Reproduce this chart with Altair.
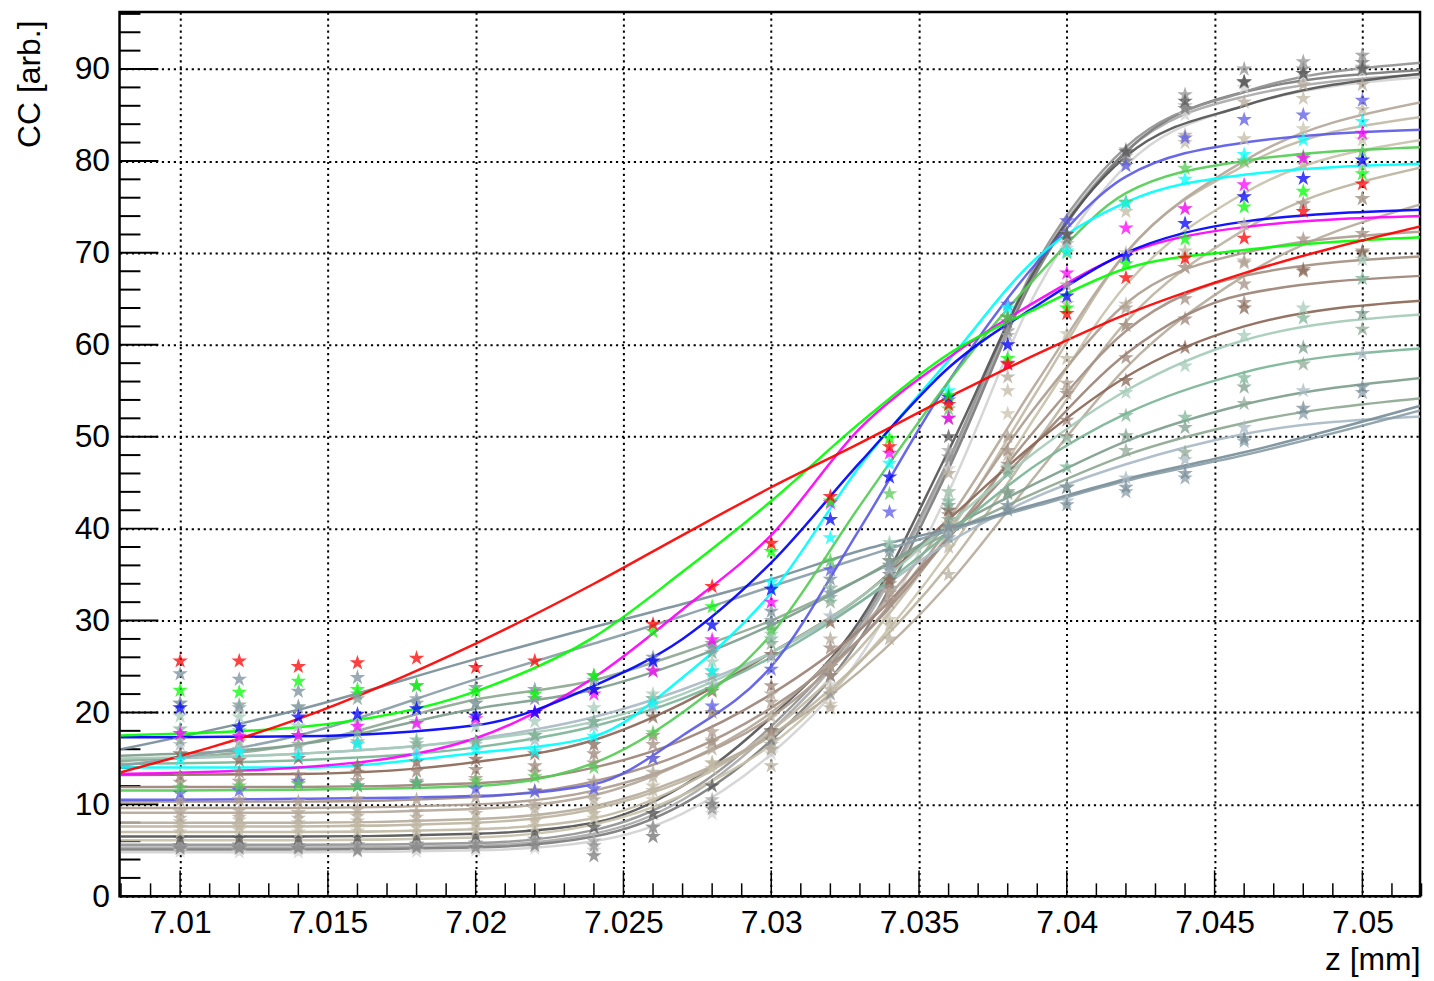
import altair as alt
import pandas as pd

# ---------------- data ----------------
PT_Z = [7.010, 7.012, 7.014, 7.016, 7.018, 7.020, 7.022, 7.024, 7.026, 7.028, 7.030,
        7.032, 7.034, 7.036, 7.038, 7.040, 7.042, 7.044, 7.046, 7.048, 7.050]
LINE_Z = [7.008, 7.014, 7.020, 7.024, 7.027, 7.030, 7.033, 7.036, 7.039, 7.042, 7.046, 7.052]

# greys (steepest)
g1_line = [5.6, 5.6, 5.8, 7.2, 11.0, 18.5, 29.5, 47.5, 69.0, 81.5, 87.5, 90.7]
g1_pts = [5.5, 5.5, 5.5, 5.6, 5.7, 5.8, 6.2, 5.5, 7.5, 9.5, 16.0, 22.0, 33.5, 47.8, 61.5, 72.1, 81.2, 87.2, 90.0, 90.8, 91.5]
g2_line = [6.5, 6.5, 6.8, 8.0, 12.0, 19.5, 30.0, 48.5, 68.5, 80.5, 86.0, 89.5]
g2_pts = [6.3, 6.3, 6.3, 6.4, 6.5, 6.6, 7.0, 7.5, 9.0, 12.0, 18.0, 25.0, 36.5, 50.0, 63.0, 72.0, 81.0, 86.5, 88.6, 89.5, 90.0]
g3_line = [5.1, 5.1, 5.3, 6.5, 10.0, 17.0, 28.0, 46.5, 68.0, 81.0, 87.5, 89.9]
g3_pts = [5.2, 5.2, 5.2, 5.0, 5.3, 5.3, 5.5, 4.4, 6.5, 10.0, 17.0, 24.0, 35.0, 52.0, 62.5, 71.5, 80.0, 85.7, 88.6, 90.0, 90.7]
g4_line = [4.8, 4.8, 5.0, 6.0, 9.0, 15.5, 26.0, 44.0, 66.0, 79.5, 86.0, 89.1]
g4_pts = [4.9, 4.8, 4.8, 4.9, 4.9, 5.0, 5.2, 5.0, 6.5, 9.0, 15.5, 23.0, 34.0, 46.5, 60.0, 70.5, 79.5, 85.0, 88.0, 89.0, 89.8]
g5_line = [5.3, 5.3, 5.5, 6.8, 10.5, 18.0, 29.0, 47.0, 68.5, 81.0, 87.0, 89.4]
g5_pts = [5.5, 5.6, 5.4, 5.5, 5.6, 5.7, 6.0, 6.0, 7.5, 10.5, 16.5, 24.0, 35.5, 48.5, 61.0, 71.0, 80.5, 86.0, 88.5, 89.5, 90.2]

# khaki / beige
k1_line = [8.0, 8.0, 8.4, 9.8, 12.8, 17.5, 24.5, 34.0, 46.0, 57.5, 67.5, 75.3]
k1_pts = [8.5, 8.6, 8.5, 8.7, 8.6, 9.0, 9.5, 10.5, 13.0, 16.0, 14.2, 20.5, 28.0, 35.0, 44.0, 55.0, 62.1, 68.4, 69.1, 75.4, 75.9]
k2_line = [7.6, 7.6, 8.0, 9.5, 12.5, 17.5, 25.5, 36.0, 49.5, 62.5, 72.5, 79.3]
k2_pts = [7.5, 7.6, 7.5, 7.6, 7.5, 7.8, 8.2, 9.0, 11.5, 14.5, 16.0, 22.5, 29.5, 38.0, 48.0, 58.5, 64.4, 70.2, 73.1, 79.6, 79.5]
k3_line = [6.1, 6.1, 6.4, 7.8, 11.0, 16.5, 25.5, 37.5, 52.5, 66.5, 76.5, 82.3]
k3_pts = [7.0, 7.2, 7.0, 7.1, 7.0, 7.2, 7.6, 8.5, 10.5, 13.9, 17.5, 20.9, 30.1, 40.5, 52.5, 61.2, 70.0, 74.8, 79.9, 83.5, 82.3]
k4_line = [7.0, 7.0, 7.3, 8.5, 12.0, 18.0, 27.0, 39.5, 55.0, 70.0, 79.5, 84.8]
k4_pts = [8.1, 8.3, 8.0, 8.2, 8.1, 8.2, 8.6, 9.5, 12.0, 14.5, 19.5, 25.0, 33.0, 44.0, 55.0, 64.5, 74.5, 82.0, 82.4, 86.8, 85.6]
k5_line = [9.1, 9.1, 9.5, 11.0, 14.5, 20.0, 29.0, 41.0, 56.0, 70.0, 80.0, 86.4]
k5_pts = [9.2, 9.3, 9.1, 9.4, 9.2, 9.5, 10.0, 11.0, 13.5, 17.0, 22.0, 28.0, 36.0, 46.0, 56.5, 66.5, 75.5, 82.8, 86.4, 88.3, 88.3]

# browns
b1_line = [13.2, 13.3, 14.6, 17.0, 21.0, 26.5, 32.5, 41.0, 49.5, 56.5, 62.0, 64.8]
b1_pts = [15.5, 14.8, 15.0, 14.2, 14.6, 14.9, 15.5, 16.5, 19.5, 22.3, 26.3, 29.8, 34.4, 42.0, 46.5, 50.0, 56.1, 59.7, 64.0, 68.0, 70.0]
b2_line = [11.9, 11.9, 12.3, 14.0, 17.0, 22.0, 29.0, 39.0, 49.5, 59.0, 65.5, 67.5]
b2_pts = [13.1, 13.5, 13.2, 13.5, 13.6, 13.8, 14.2, 15.5, 17.5, 20.0, 22.9, 27.0, 34.0, 41.5, 47.0, 51.8, 58.6, 62.8, 64.6, 68.2, 70.2]
b3_line = [10.3, 10.3, 10.8, 12.5, 15.5, 20.5, 28.0, 39.0, 51.0, 61.5, 67.5, 69.6]
b3_pts = [12.4, 12.5, 12.3, 12.6, 12.5, 12.8, 13.5, 14.5, 16.5, 16.8, 17.9, 24.0, 32.0, 40.0, 48.5, 54.7, 62.1, 65.0, 66.6, 71.5, 72.1]
b4_line = [9.6, 9.6, 10.0, 11.5, 14.5, 19.5, 28.0, 40.0, 53.5, 64.5, 70.0, 72.3]
b4_pts = [10.4, 10.5, 10.3, 10.6, 10.5, 10.8, 11.5, 12.5, 15.0, 17.9, 21.1, 25.0, 33.0, 42.0, 50.0, 55.8, 64.0, 68.4, 68.9, 75.3, 75.9]

# sage / teal
s1_line = [15.0, 15.5, 17.0, 19.0, 22.0, 26.5, 32.5, 40.5, 48.5, 55.0, 60.5, 63.3]
s1_pts = [19.6, 19.5, 18.5, 19.0, 19.0, 18.5, 19.0, 20.5, 22.0, 25.5, 28.5, 33.5, 38.5, 44.0, 46.7, 49.8, 54.8, 57.7, 61.0, 64.0, 69.3]
s2_line = [14.4, 14.8, 16.2, 18.5, 21.5, 26.0, 32.0, 39.5, 47.0, 52.5, 57.0, 59.6]
s2_pts = [18.2, 18.0, 17.5, 17.8, 17.0, 16.8, 17.5, 19.0, 21.5, 24.5, 28.0, 32.5, 38.0, 43.0, 46.0, 46.7, 52.3, 52.1, 56.4, 62.9, 67.2]
s3_line = [15.3, 16.5, 20.4, 22.5, 25.5, 29.5, 34.5, 40.0, 45.0, 49.5, 53.5, 56.4]
s3_pts = [21.0, 20.8, 20.6, 21.5, 21.0, 21.0, 21.5, 22.5, 24.5, 26.5, 29.5, 33.5, 38.0, 42.5, 43.8, 44.5, 50.1, 51.0, 55.4, 59.7, 63.4]
s4_line = [14.7, 16.5, 21.4, 23.5, 26.5, 30.0, 34.5, 39.5, 44.0, 48.0, 51.5, 54.2]
s4_pts = [17.0, 16.8, 16.5, 16.8, 16.6, 16.8, 17.5, 19.0, 21.5, 24.0, 27.5, 32.0, 36.5, 41.0, 44.0, 44.5, 48.5, 48.3, 53.6, 57.9, 61.7]
s5_line = [14.9, 15.5, 17.1, 19.5, 22.5, 26.5, 32.0, 38.5, 43.5, 47.0, 50.3, 52.2]
s5_pts = [16.5, 16.0, 16.2, 16.5, 16.0, 16.5, 17.0, 18.5, 20.5, 23.0, 26.0, 30.5, 35.5, 39.5, 42.5, 43.0, 45.5, 47.5, 51.0, 55.0, 59.0]

# grey-blue (flattest)
a1_line = [16.0, 20.3, 25.8, 29.3, 31.8, 34.5, 37.6, 40.0, 42.7, 45.4, 48.3, 53.4]
a1_pts = [24.2, 23.6, 22.3, 23.8, 22.9, 22.7, 22.5, 24.0, 26.0, 27.5, 31.0, 34.5, 37.5, 40.2, 42.0, 42.6, 44.5, 46.0, 49.8, 53.1, 55.4]
a2_line = [14.2, 17.5, 23.6, 27.5, 30.5, 33.7, 36.8, 39.8, 42.5, 45.2, 48.0, 52.9]
a2_pts = [21.0, 20.5, 20.6, 22.0, 21.5, 21.0, 21.5, 23.5, 25.5, 27.0, 30.0, 33.0, 36.0, 39.0, 42.5, 44.5, 44.0, 45.5, 49.5, 52.5, 54.8]

# coloured series
slate_line = [10.5, 10.6, 10.9, 12.2, 17.5, 25.0, 40.0, 56.0, 69.0, 78.3, 82.0, 83.4]
slate_pts = [11.2, 11.5, 12.5, 12.0, 12.3, 11.7, 11.4, 11.7, 15.0, 20.7, 24.7, 35.5, 41.8, 54.0, 64.4, 73.5, 79.5, 82.5, 84.5, 85.0, 86.6]
medgreen_line = [11.5, 11.6, 12.0, 14.5, 20.0, 28.5, 42.5, 56.0, 67.5, 76.5, 80.0, 81.5]
medgreen_pts = [11.8, 12.0, 12.2, 12.0, 12.3, 12.5, 13.0, 14.0, 17.8, 22.5, 29.0, 36.5, 43.8, 53.0, 63.0, 70.0, 75.5, 79.2, 80.0, 80.5, 81.0]
cyan_line = [14.0, 14.0, 15.6, 17.4, 23.8, 33.0, 46.8, 58.3, 69.5, 75.5, 78.5, 79.7]
cyan_pts = [14.9, 15.7, 15.3, 16.6, 15.3, 16.0, 15.8, 17.4, 21.0, 24.5, 34.2, 39.0, 47.1, 55.0, 64.0, 70.2, 75.4, 78.0, 80.7, 82.3, 84.3]
magenta_line = [13.3, 14.0, 17.2, 23.8, 31.2, 39.3, 50.9, 58.6, 64.8, 69.9, 72.8, 74.0]
magenta_pts = [17.7, 17.4, 17.5, 18.5, 18.8, 19.3, 20.0, 22.0, 24.5, 27.9, 32.0, 42.8, 48.2, 52.0, 58.0, 67.8, 72.7, 74.8, 77.4, 80.3, 83.0]
blue_line = [17.3, 17.4, 18.6, 22.9, 28.0, 36.3, 47.2, 57.5, 64.3, 70.0, 73.4, 74.7]
blue_pts = [20.5, 18.4, 19.5, 19.8, 20.4, 19.6, 20.0, 22.5, 25.6, 29.5, 33.4, 41.0, 45.6, 54.3, 60.0, 65.3, 69.6, 73.2, 76.1, 78.1, 80.1]
green_line = [17.5, 18.4, 22.3, 28.2, 35.3, 43.0, 51.5, 59.0, 64.0, 68.3, 70.3, 71.7]
green_pts = [22.4, 22.2, 23.4, 22.5, 22.9, 22.3, 22.0, 24.0, 28.8, 31.5, 37.5, 43.0, 49.8, 54.5, 58.5, 64.0, 68.8, 71.5, 75.0, 76.7, 78.6]
red_line = [13.5, 19.3, 27.5, 34.0, 39.3, 44.5, 49.3, 54.3, 59.0, 63.3, 67.8, 72.9]
red_pts = [25.6, 25.6, 25.0, 25.4, 25.9, 24.9, 25.6, None, 29.6, 33.7, 38.4, 43.5, 48.9, 53.5, 57.9, 63.4, 67.3, 69.4, 71.6, 74.5, 77.5]

SERIES = [
    ("g4", "#d2d2d2", g4_line, g4_pts), ("g5", "#a9a9a9", g5_line, g5_pts),
    ("g3", "#7c7c7c", g3_line, g3_pts), ("g1", "#929292", g1_line, g1_pts),
    ("g2", "#555555", g2_line, g2_pts),
    ("k3", "#c8c2ac", k3_line, k3_pts), ("k4", "#c2baa6", k4_line, k4_pts),
    ("k2", "#bdb5a2", k2_line, k2_pts), ("k1", "#b6ac9c", k1_line, k1_pts),
    ("k5", "#b4a89a", k5_line, k5_pts),
    ("b4", "#ad9d90", b4_line, b4_pts), ("b3", "#a49084", b3_line, b3_pts),
    ("b2", "#9c8478", b2_line, b2_pts), ("b1", "#8a6858", b1_line, b1_pts),
    ("s5", "#a9bac4", s5_line, s5_pts), ("s4", "#8fa894", s4_line, s4_pts),
    ("s3", "#7f9e8e", s3_line, s3_pts), ("s2", "#7db598", s2_line, s2_pts),
    ("s1", "#a6cbb9", s1_line, s1_pts),
    ("a2", "#8a9ea8", a2_line, a2_pts), ("a1", "#7a8f9a", a1_line, a1_pts),
    ("slate", "#5b5be6", slate_line, slate_pts), ("medgreen", "#55cc55", medgreen_line, medgreen_pts),
    ("cyan", "#00ffff", cyan_line, cyan_pts), ("magenta", "#ff00ff", magenta_line, magenta_pts),
    ("blue", "#0000ff", blue_line, blue_pts), ("green", "#00ff00", green_line, green_pts),
    ("red", "#ff0000", red_line, red_pts),
]

X_LABELS = [7.010, 7.015, 7.020, 7.025, 7.030, 7.035, 7.040, 7.045, 7.050]
Y_LABELS = [0, 10, 20, 30, 40, 50, 60, 70, 80, 90]

# ---------------- frames ----------------
names = [s[0] for s in SERIES]
colors = [s[1] for s in SERIES]
line_rows, pt_rows = [], []
for i, (name, col, ln, pts) in enumerate(SERIES):
    for z, v in zip(LINE_Z, ln):
        line_rows.append({"s": name, "z": z, "v": v, "o": i})
    for z, v in zip(PT_Z, pts):
        if v is not None:
            pt_rows.append({"s": name, "z": z, "v": v, "o": i})
lines_df = pd.DataFrame(line_rows)
pts_df = pd.DataFrame(pt_rows)

W, H = 1306, 888
XDOM = [7.00795, 7.05195]
YDOM = [0, 96.2]
xs = alt.Scale(domain=XDOM, nice=False, zero=False)
ys = alt.Scale(domain=YDOM, nice=False, zero=False)
cs = alt.Scale(domain=names, range=colors)

FONT = "Liberation Sans"

x_axis = alt.Axis(values=X_LABELS, format=".3~f", grid=True, gridDash=[2.2, 3.8], gridColor="black",
                  gridWidth=2, gridOpacity=1, ticks=False, domain=False, labelFont=FONT,
                  labelFontSize=32, labelColor="black", labelPadding=11, labelFlush=False,
                  title="z [mm]", titleFont=FONT, titleFontSize=32, titleFontWeight="normal",
                  titleColor="black", titleAnchor="end", titleAlign="right", titleBaseline="middle",
                  titleX=W, titleY=64)
y_axis = alt.Axis(values=Y_LABELS, grid=True, gridDash=[2.2, 3.8], gridColor="black",
                  gridWidth=2, gridOpacity=1, ticks=False, domain=False, labelFont=FONT,
                  labelFontSize=32, labelColor="black", labelPadding=10,
                  title="CC [arb.]", titleFont=FONT, titleFontSize=32, titleFontWeight="normal",
                  titleColor="black", titleAngle=270, titleAlign="right", titleBaseline="middle",
                  titleX=-90, titleY=8)


def X(field):
    return alt.X(field, scale=xs, axis=x_axis)


def Y(field):
    return alt.Y(field, scale=ys, axis=y_axis)


# inward ROOT-style ticks
ymaj = pd.DataFrame({"t": Y_LABELS})
ymin = pd.DataFrame({"t": [t for t in range(0, 97, 2) if t % 10 != 0]})
xmaj = pd.DataFrame({"t": X_LABELS})
xmin = pd.DataFrame({"t": [round(7.008 + 0.001 * k, 3) for k in range(45)
                           if round((7.008 + 0.001 * k) * 1000) % 5 != 0]})


def ytick(df, length):
    return alt.Chart(df).mark_rule(color="black", strokeWidth=2).encode(
        y=Y("t:Q"), x=alt.value(0), x2=alt.value(length))


def xtick(df, length):
    return alt.Chart(df).mark_rule(color="black", strokeWidth=1.5).encode(
        x=X("t:Q"), y=alt.value(H), y2=alt.value(H - length))


STAR = ("M0,-1L0.2245,-0.309L0.9511,-0.309L0.3633,0.118L0.5878,0.809L0,0.382"
        "L-0.5878,0.809L-0.3633,0.118L-0.9511,-0.309L-0.2245,-0.309Z")

lines = alt.Chart(lines_df).mark_line(interpolate="monotone", strokeWidth=2.5, clip=True, opacity=0.92).encode(
    x=X("z:Q"), y=Y("v:Q"),
    color=alt.Color("s:N", scale=cs, legend=None),
    detail="s:N",
)

points = alt.Chart(pts_df).mark_point(shape=STAR, filled=True, size=270, opacity=0.75, strokeWidth=0, clip=True).encode(
    x=X("z:Q"), y=Y("v:Q"),
    color=alt.Color("s:N", scale=cs, legend=None),
    order=alt.Order("o:Q"),
)

chart = alt.layer(
    ytick(ymaj, 39), ytick(ymin, 21), xtick(xmaj, 26), xtick(xmin, 13),
    lines, points,
).properties(
    width=W, height=H,
    autosize=alt.AutoSizeParams(type="none"),
    padding={"left": 112, "top": 2, "right": 6, "bottom": 82},
    background="white",
).configure_view(stroke="black", strokeWidth=2.5)

chart.save("out.html", embed_options={"renderer": "svg", "actions": False})
